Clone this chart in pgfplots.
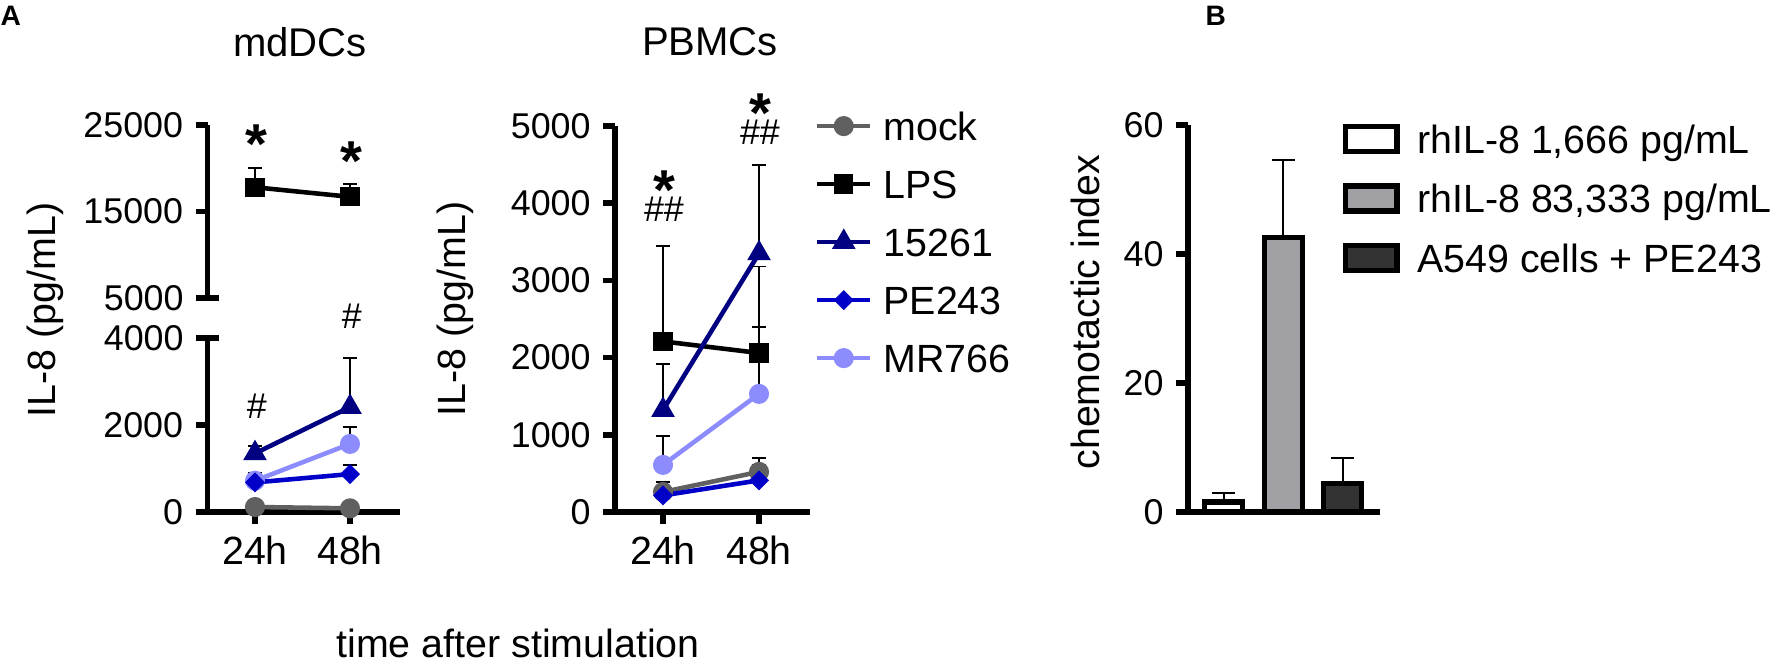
\documentclass[border=0pt]{standalone}
\usepackage{pgfplots}
\pgfplotsset{compat=1.18}
\usepackage{fontspec}
\setmainfont{Liberation Sans}
\definecolor{cmock}{HTML}{606060}
\definecolor{c15261}{HTML}{000080}
\definecolor{cPE}{HTML}{0000C8}
\definecolor{cMR}{HTML}{8C8CFF}
\definecolor{barg}{HTML}{A0A0A4}
\definecolor{bard}{HTML}{333333}
\tikzset{star/.style={font=\bfseries\fontsize{16}{18}\selectfont, inner sep=0pt, anchor=base, text height=0.72em, text depth=-0.42em}}
\pgfplotsset{
 gp/.style={scale only axis, clip=false,
   axis line style={line width=1.6pt, black},
   tick align=outside, major tick length=0.12cm,
   major tick style={line width=1.6pt, black},
   /pgf/number format/assume math mode=true,
   /pgf/number format/1000 sep={},
   /pgf/number format/fixed, /pgf/number format/precision=0,
   scaled y ticks=false,
   yticklabel style={font=\fontsize{10.2}{12}\selectfont},
   xticklabel style={font=\fontsize{11.2}{13}\selectfont}},
 ser/.style={line width=1.3pt,
   error bars/.cd, y dir=plus, y explicit,
   error bar style={line width=0.55pt, black},
   error mark options={rotate=90, mark size=2pt, line width=0.55pt, black}},
 barerr/.style={error bars/.cd, y dir=plus, y explicit,
   error bar style={line width=0.6pt, black},
   error mark options={rotate=90, mark size=3.3pt, line width=0.6pt, black}},
 barleg/.style={legend image code/.code={\draw[##1] (0.026cm,-0.125cm) rectangle (0.544cm,0.125cm);}},
}
\begin{document}
\begin{tikzpicture}
\useasboundingbox (0,0) rectangle (17.76,6.6);

% ---------------- mdDCs, upper segment ----------------
\begin{axis}[gp, at={(2.075cm,3.62cm)}, anchor=south west,
  width=1.9285cm, height=1.73cm,
  xmin=-0.5, xmax=1.53, ymin=5000, ymax=25000,
  axis x line=none, axis y line*=left,
  ytick={15000,25000}, extra y ticks={5000},
  extra y tick style={major tick length=0.23cm, tick align=center}]
\addplot[black, mark=square*, mark size=2.1pt, mark options={solid}, ser] coordinates {(0,17800) +- (0,2200) (1,16700) +- (0,1500)};
\node[star] at (axis cs:0.01,20607) {*};
\node[star] at (axis cs:1.02,18642) {*};
\end{axis}

% ---------------- mdDCs, lower segment ----------------
\begin{axis}[gp, at={(2.075cm,1.48cm)}, anchor=south west,
  width=1.9285cm, height=1.74cm,
  xmin=-0.5, xmax=1.53, ymin=0, ymax=4000,
  axis lines*=left, xtick={0,1}, xticklabels={24h,48h},
  ytick={0,2000}, extra y ticks={4000},
  extra y tick style={major tick length=0.23cm, tick align=center}]
\addplot[cMR, mark=*, mark size=2.2pt, mark options={solid}, ser] coordinates {(0,720) +- (0,180) (1,1565) +- (0,400)};
\addplot[cPE, mark=square*, mark size=1.35pt, mark options={solid, rotate=45}, ser] coordinates {(0,680) +- (0,210) (1,872) +- (0,215)};
\addplot[c15261, mark=triangle*, mark size=2.6pt, mark options={solid}, ser] coordinates {(0,1348) +- (0,170) (1,2412) +- (0,1130)};
\addplot[cmock, mark=*, mark size=2.2pt, mark options={solid}, ser] coordinates {(0,115) +- (0,30) (1,85) +- (0,25)};
\node[font=\fontsize{10.2}{12}\selectfont, inner sep=0pt] at (axis cs:0.02,2437) {\#};
\node[font=\fontsize{10.2}{12}\selectfont, inner sep=0pt] at (axis cs:1.02,4506) {\#};
\end{axis}

% ---------------- PBMCs ----------------
\begin{axis}[gp, at={(6.15cm,1.48cm)}, anchor=south west,
  width=1.949cm, height=3.86cm,
  xmin=-0.5, xmax=1.53, ymin=0, ymax=5000,
  axis lines*=left, xtick={0,1}, xticklabels={24h,48h},
  ytick={0,1000,2000,3000,4000,5000},
  legend cell align=left,
  legend style={draw=none, fill=none, inner sep=0pt, outer sep=0pt,
    at={(axis description cs:1.026,1.049)}, anchor=north west,
    row sep=0.20cm, column sep=0.11cm,
    font=\fontsize{11.2}{13}\selectfont,
    nodes={inner sep=0pt, text height=0.332cm, text depth=0.048cm}},
  legend image code/.code={\draw[#1, mark repeat=2, mark phase=2] plot coordinates {(0cm,0cm) (0.265cm,0cm) (0.53cm,0cm)};}]
\addplot[cmock, mark=*, mark size=2.2pt, mark options={solid}, ser] coordinates {(0,260) +- (0,130) (1,520) +- (0,180)};
\addlegendentry{mock}
\addplot[black, mark=square*, mark size=2.1pt, mark options={solid}, ser] coordinates {(0,2210) +- (0,1230) (1,2060) +- (0,340)};
\addlegendentry{LPS}
\addplot[c15261, mark=triangle*, mark size=2.6pt, mark options={solid}, ser] coordinates {(0,1320) +- (0,600) (1,3350) +- (0,1150)};
\addlegendentry{15261}
\addplot[cPE, mark=square*, mark size=1.35pt, mark options={solid, rotate=45}, ser] coordinates {(0,215) +- (0,60) (1,410) +- (0,200)};
\addlegendentry{PE243}
\addplot[cMR, mark=*, mark size=2.2pt, mark options={solid}, ser] coordinates {(0,610) +- (0,380) (1,1530) +- (0,1650)};
\addlegendentry{MR766}
\node[star] at (axis cs:0.01,3925) {*};
\node[font=\fontsize{10.2}{12}\selectfont, inner sep=0pt] at (axis cs:0.01,3925) {\#\#};
\node[star] at (axis cs:1.01,4922) {*};
\node[font=\fontsize{10.2}{12}\selectfont, inner sep=0pt] at (axis cs:1.01,4922) {\#\#};
\end{axis}

% ---------------- B: chemotactic index ----------------
\begin{axis}[gp, at={(11.88cm,1.48cm)}, anchor=south west,
  width=1.916cm, height=3.87cm,
  xmin=-0.6, xmax=2.62, ymin=0, ymax=60,
  axis lines*=left, xtick=\empty, ytick={0,20,40,60},
  legend cell align=left,
  legend style={draw=none, fill=none, inner sep=0pt, outer sep=0pt,
    at={(axis description cs:0.807,1.013)}, anchor=north west,
    row sep=0.215cm, column sep=0.176cm,
    font=\fontsize{11.2}{13}\selectfont,
    nodes={inner sep=0pt, text height=0.332cm, text depth=0.048cm}}]
\addplot[ybar, bar width=0.38cm, bar shift=0pt, fill=white, draw=black, line width=1.5pt, barleg, barerr] coordinates {(0,1.55) +- (0,1.35)};
\addlegendentry{rhIL-8 1,666 pg/mL}
\addplot[ybar, bar width=0.38cm, bar shift=0pt, fill=barg, draw=black, line width=1.5pt, barleg, barerr] coordinates {(1,42.6) +- (0,12.0)};
\addlegendentry{rhIL-8 83,333 pg/mL}
\addplot[ybar, bar width=0.38cm, bar shift=0pt, fill=bard, draw=black, line width=1.5pt, barleg, barerr] coordinates {(2,4.4) +- (0,4.0)};
\addlegendentry{A549 cells + PE243}
\end{axis}

% ---------------- labels ----------------
\node[rotate=90, font=\fontsize{11.2}{13}\selectfont] at (0.45,3.50) {IL-8 (pg/mL)};
\node[rotate=90, font=\fontsize{11.2}{13}\selectfont] at (4.55,3.51) {IL-8 (pg/mL)};
\node[rotate=90, font=\fontsize{11.2}{13}\selectfont] at (10.85,3.48) {chemotactic index};
\node[font=\fontsize{11.4}{13}\selectfont] at (3.00,6.18) {mdDCs};
\node[font=\fontsize{11.4}{13}\selectfont] at (7.10,6.18) {PBMCs};
\node[anchor=base, inner sep=0pt, font=\fontsize{11.2}{13}\selectfont] at (5.18,0.03) {time after stimulation};
\node[anchor=north west, inner sep=0pt, font=\bfseries\fontsize{8}{9.6}\selectfont] at (0,6.55) {A};
\node[anchor=north west, inner sep=0pt, font=\bfseries\fontsize{8}{9.6}\selectfont] at (12.05,6.55) {B};
\end{tikzpicture}
\end{document}
